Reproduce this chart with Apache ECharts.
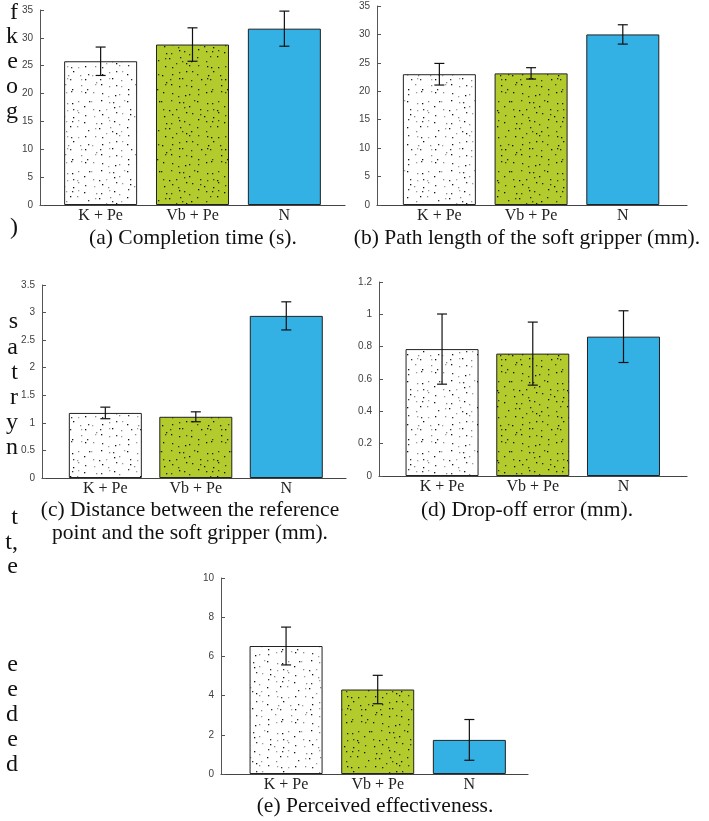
<!DOCTYPE html>
<html><head><meta charset="utf-8">
<script src="https://cdn.jsdelivr.net/npm/echarts@6/dist/echarts.min.js"></script>
<style>html,body{margin:0;padding:0;background:#fff;overflow:hidden}#c{width:709px;height:821px}</style>
</head><body><div id="c"></div>
<script>
// ---- data ----
const categories = ['K + Pe', 'Vb + Pe', 'N'];
const completionTime = [25.8, 28.8, 31.65];
const completionTimeErr = [2.55, 3.0, 3.15];
const pathLength = [23.0, 23.15, 30.0];
const pathLengthErr = [1.9, 1.0, 1.7];
const distance = [1.18, 1.11, 2.94];
const distanceErr = [0.105, 0.09, 0.255];
const dropOff = [0.785, 0.757, 0.862];
const dropOffErr = [0.217, 0.195, 0.16];
const effectiveness = [6.53, 4.31, 1.74];
const effectivenessErr = [0.965, 0.725, 1.04];
const yMax = [35, 35, 3.5, 1.2, 10];
const yStep = [5, 5, 0.5, 0.2, 2];
const captions = [
  '(a) Completion time (s).',
  '(b) Path length of the soft gripper (mm).',
  '(c) Distance between the reference',
  'point and the soft gripper (mm).',
  '(d) Drop-off error (mm).',
  '(e) Perceived effectiveness.'
];
// cut-off letters of the neighbouring text column
const marginLetters = ['f','k','e','o','g',')','s','a','t','r','y','n','t','t,','e','e','e','d','e','d'];

// ---- layout ----
const panels = [
  {vals: completionTime, err: completionTimeErr, left: 40, top: 10, w: 305, h: 195, xmin: 0.34, xmax: 3.66},
  {vals: pathLength, err: pathLengthErr, left: 377, top: 6, w: 310, h: 199, xmin: 0.32, xmax: 3.70},
  {vals: distance, err: distanceErr, left: 42, top: 285, w: 304, h: 193, xmin: 0.30, xmax: 3.66},
  {vals: dropOff, err: dropOffErr, left: 379, top: 282, w: 308, h: 194, xmin: 0.305, xmax: 3.70},
  {vals: effectiveness, err: effectivenessErr, left: 221, top: 578, w: 307, h: 196, xmin: 0.29, xmax: 3.64}
];
const captionPos = [[193, 238], [527, 238], [190, 510], [190, 533], [527, 510], [375, 806]];
const letterY = [13, 37, 62, 87, 112, 228, 322, 348, 373, 398, 423, 448, 518, 543, 567, 665, 690, 715, 740, 765];

function makePattern(bg, dots) {
  const c = document.createElement('canvas');
  c.width = 70; c.height = 70;
  const ctx = c.getContext('2d');
  ctx.fillStyle = bg; ctx.fillRect(0, 0, 70, 70);
  let s = 12345;
  const rnd = () => { s = (s * 1103515245 + 12345) % 2147483648; return s / 2147483648; };
  let k = 0;
  for (let gy = 0; gy < 70; gy += 7) {
    for (let gx = 0; gx < 70; gx += 7) {
      const x = gx + Math.floor(rnd() * 6), y = gy + Math.floor(rnd() * 6);
      ctx.fillStyle = dots[k++ % dots.length];
      ctx.fillRect(x, y, 1.3, 1.3);
    }
  }
  return {image: c, repeat: 'repeat'};
}
const fills = [
  makePattern('#ffffff', ['#111111', '#8a8a8a', '#333333', '#a0a0a0']),
  makePattern('#b4cb2e', ['#111111', '#222222', '#3a4010']),
  '#33b0e4'
];

const grid = [], xAxis = [], yAxis = [], series = [];
panels.forEach((p, i) => {
  grid.push({left: p.left, top: p.top, width: p.w, height: p.h, containLabel: false});
  xAxis.push({
    type: 'value', gridIndex: i, min: p.xmin, max: p.xmax,
    axisLine: {show: true, lineStyle: {color: '#444', width: 1.2}},
    axisTick: {show: false}, splitLine: {show: false},
    axisLabel: {
      customValues: [1, 2, 3], margin: 3,
      formatter: v => categories[Math.round(v) - 1],
      fontFamily: '"Liberation Serif", serif', fontSize: 16, color: '#222'
    }
  });
  yAxis.push({
    type: 'value', gridIndex: i, min: 0, max: yMax[i], interval: yStep[i],
    axisLine: {show: true, lineStyle: {color: '#555', width: 1}},
    axisTick: {show: true, inside: true, length: 4, lineStyle: {color: '#555'}},
    splitLine: {show: false},
    axisLabel: {fontFamily: '"Liberation Sans", Arial, sans-serif', fontSize: 10, color: '#404040', margin: 7}
  });
  series.push({
    type: 'bar', xAxisIndex: i, yAxisIndex: i, barWidth: 73,
    itemStyle: {borderColor: '#222', borderWidth: 1},
    data: p.vals.map((v, j) => ({value: [j + 1, v], itemStyle: {color: fills[j]}}))
  });
  series.push({
    type: 'custom', xAxisIndex: i, yAxisIndex: i, z: 5,
    data: p.vals.map((v, j) => [j + 1, v - p.err[j], v + p.err[j]]),
    renderItem: (params, api) => {
      const x = api.value(0);
      const lo = api.coord([x, api.value(1)]);
      const hi = api.coord([x, api.value(2)]);
      const hw = 5;
      const st = {stroke: '#111', lineWidth: 1.2};
      return {type: 'group', children: [
        {type: 'line', shape: {x1: lo[0], y1: lo[1], x2: hi[0], y2: hi[1]}, style: st},
        {type: 'line', shape: {x1: hi[0] - hw, y1: hi[1], x2: hi[0] + hw, y2: hi[1]}, style: st},
        {type: 'line', shape: {x1: lo[0] - hw, y1: lo[1], x2: lo[0] + hw, y2: lo[1]}, style: st}
      ]};
    }
  });
});

const graphic = [];
captions.forEach((t, i) => {
  graphic.push({type: 'text', x: captionPos[i][0], y: captionPos[i][1],
    style: {text: t, font: '21.5px "Liberation Serif", serif', fill: '#111', textAlign: 'center', textVerticalAlign: 'middle'}});
});
marginLetters.forEach((t, i) => {
  graphic.push({type: 'text', x: 18, y: letterY[i],
    style: {text: t, font: '24px "Liberation Serif", serif', fill: '#111', textAlign: 'right', textVerticalAlign: 'middle'}});
});

const chart = echarts.init(document.getElementById('c'));
chart.setOption({animation: false, backgroundColor: '#fff', grid, xAxis, yAxis, series, graphic});
</script></body></html>
